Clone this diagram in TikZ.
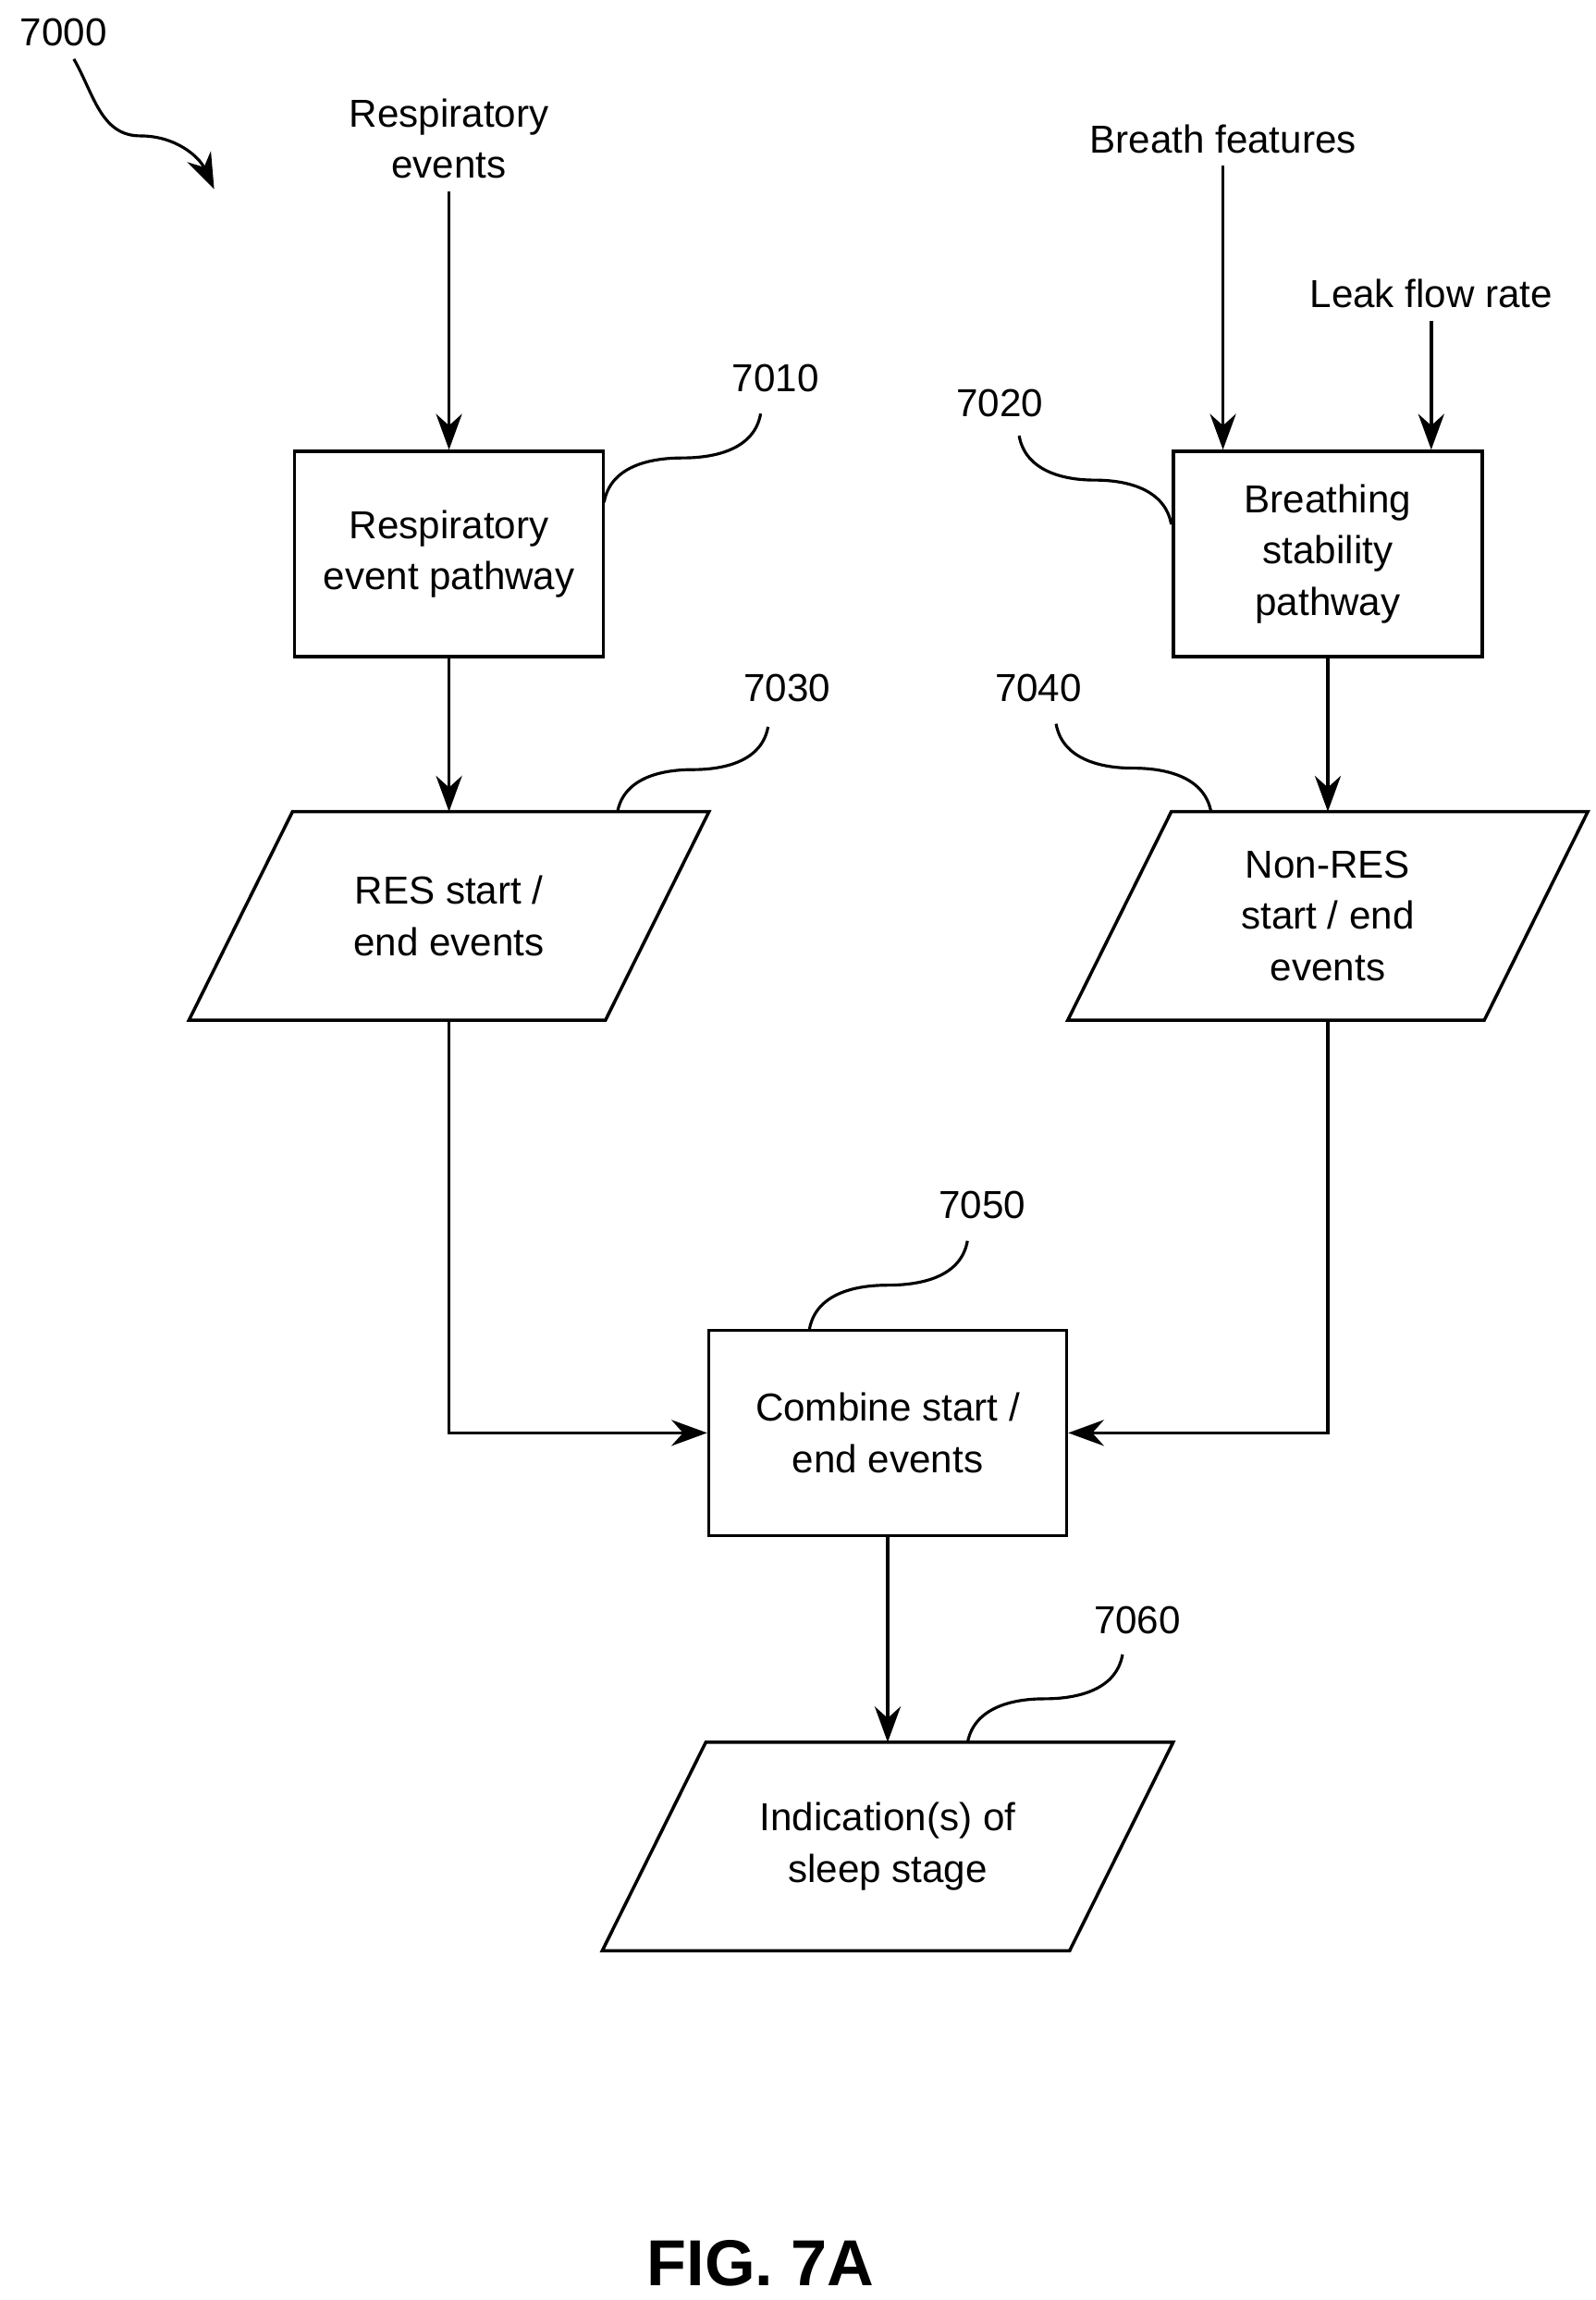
\documentclass[tikz,border=0pt]{standalone}
\usepackage{fontspec}
\setmainfont{Liberation Sans}
\usetikzlibrary{shapes,arrows.meta,positioning,calc}

\begin{document}
\begin{tikzpicture}[x=0.01598cm, y=0.01598cm, line width=1pt, font=\fontsize{12}{15.8}\selectfont]
  \tikzstyle{process}=[rectangle, draw, minimum width=3.34cm, minimum height=2.22cm, align=center, inner sep=2pt]
  \tikzstyle{data}=[rectangle, minimum width=4.47cm, minimum height=2.22cm, align=center, inner sep=2pt,
    append after command={\pgfextra{\draw[line width=1pt] ($(\tikzlastnode.north west)+(0.56cm,0)$) -- ($(\tikzlastnode.north east)+(0.56cm,0)$) -- ($(\tikzlastnode.south east)+(-0.56cm,0)$) -- ($(\tikzlastnode.south west)+(-0.56cm,0)$) -- cycle;}}]
  \tikzstyle{flow}=[-{Stealth[length=11pt,width=8pt]}]
  \tikzstyle{leader}=[line width=0.9pt]
  \useasboundingbox (0,0) rectangle (1080,-1557);

  % Entradas
  \node[align=center] (resp) at (304,-94) {Respiratory\\events};
  \node (breath) at (828,-94) {Breath features};
  \node (leak) at (969,-199) {Leak flow rate};

  % Bloques
  \node[process] (b7010) at (304,-375) {Respiratory\\event pathway};
  \node[process] (b7020) at (899,-375) {Breathing\\stability\\pathway};
  \node[data] (d7030) at (304,-620) {RES start /\\end events};
  \node[data] (d7040) at (899,-620) {Non-RES\\start / end\\events};
  \node[process, minimum width=3.87cm] (b7050) at (601,-970) {Combine start /\\end events};
  \node[data, minimum width=5.02cm] (d7060) at (601,-1250) {Indication(s) of\\sleep stage};

  % Conexiones
  \draw[flow] (resp) -- (b7010);
  \draw[flow] (breath) -- (breath|-b7020.north);
  \draw[flow] (leak) -- (leak|-b7020.north);
  \draw[flow] (b7010) -- (d7030);
  \draw[flow] (b7020) -- (d7040);
  \draw[flow] (d7030) |- (b7050);
  \draw[flow] (d7040) |- (b7050);
  \draw[flow] (b7050) -- (d7060);

  % Referencias
  \node (l7000) at (43,-22) {7000};
  \node (l7010) at (525,-256) {7010};
  \node (l7020) at (677,-273) {7020};
  \node (l7030) at (533,-466) {7030};
  \node (l7040) at (703,-466) {7040};
  \node (l7050) at (665,-816) {7050};
  \node (l7060) at (770,-1097) {7060};
  \coordinate (a7000) at (145,-128);
  \draw[flow, leader] (50,-40) to[out=-60,in=180] (95,-92) to[out=0,in=115] (a7000);
  \draw[leader] (409,-340) to[out=80,in=180] (462,-310) to[out=0,in=260] (515,-280);
  \draw[leader] (418,-550) to[out=80,in=180] (469,-521) to[out=0,in=260] (520,-492);
  \draw[leader] (548,-900) to[out=80,in=180] (601,-870) to[out=0,in=260] (655,-840);
  \draw[leader] (655,-1180) to[out=80,in=180] (707,-1150) to[out=0,in=260] (760,-1120);
  \draw[leader] (690,-295) to[out=-80,in=180] (741,-325) to[out=0,in=100] (793,-355);
  \draw[leader] (715,-490) to[out=-80,in=180] (767,-520) to[out=0,in=100] (820,-550);

  % Titulo
  \node[font=\fontsize{20}{24}\selectfont\bfseries] (fig) at (515,-1532) {FIG. 7A};
\end{tikzpicture}
\end{document}
